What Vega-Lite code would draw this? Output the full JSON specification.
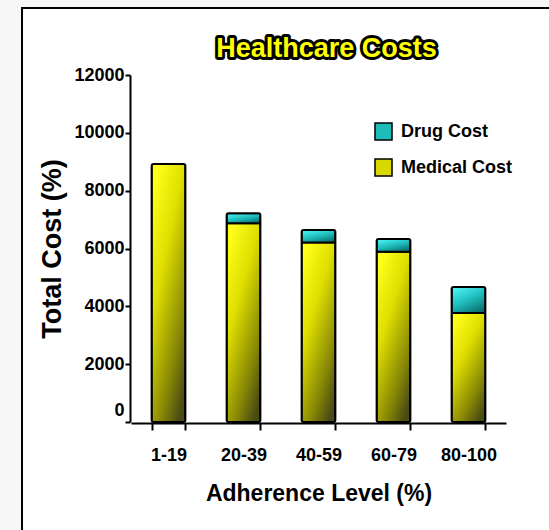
{
  "$schema": "https://vega.github.io/schema/vega-lite/v6.json",
  "width": 527,
  "height": 522,
  "autosize": {"type": "none"},
  "padding": {"left": 22, "top": 8, "right": 0, "bottom": 0},
  "background": "#f7f7f7",
  "config": {
    "view": {"fill": "white", "stroke": "black", "strokeWidth": 2, "strokeDash": [527, 1049, 530]},
    "font": "Liberation Sans"
  },
  "datasets": {
    "costs": [
      {"level": "1-19", "type": "Medical Cost", "cost": 8920},
      {"level": "20-39", "type": "Medical Cost", "cost": 6870},
      {"level": "20-39", "type": "Drug Cost", "cost": 350},
      {"level": "40-59", "type": "Medical Cost", "cost": 6210},
      {"level": "40-59", "type": "Drug Cost", "cost": 430},
      {"level": "60-79", "type": "Medical Cost", "cost": 5890},
      {"level": "60-79", "type": "Drug Cost", "cost": 440},
      {"level": "80-100", "type": "Medical Cost", "cost": 3770},
      {"level": "80-100", "type": "Drug Cost", "cost": 900}
    ],
    "heading": [{"label": "Healthcare Costs", "level": "40-59", "pos": 12900}]
  },
  "layer": [
    {
      "data": {"name": "costs"},
      "mark": {"type": "bar", "stroke": "black", "strokeWidth": 2, "cornerRadius": 2},
      "encoding": {
        "x": {
          "field": "level",
          "type": "nominal",
          "sort": ["1-19", "20-39", "40-59", "60-79", "80-100"],
          "scale": {"range": [109, 484], "paddingInner": 0.55, "paddingOuter": 0.275},
          "axis": {
            "orient": "bottom",
            "offset": -107,
            "tickBand": "extent",
            "domainColor": "black",
            "domainWidth": 2,
            "tickColor": "black",
            "tickWidth": 2,
            "tickSize": 7,
            "labelFontSize": 18,
            "labelFontWeight": "bold",
            "labelColor": "black",
            "labelPadding": 16,
            "labelAngle": 0,
            "title": "Adherence Level (%)",
            "titleFontSize": 23,
            "titleFontWeight": "bold",
            "titleColor": "black",
            "titlePadding": 18
          }
        },
        "y": {
          "field": "cost",
          "type": "quantitative",
          "stack": "zero",
          "scale": {"domain": [0, 12000], "range": [414, 67], "nice": false},
          "axis": {
            "values": [0, 2000, 4000, 6000, 8000, 10000, 12000],
            "format": "d",
            "offset": -108,
            "grid": false,
            "domainColor": "black",
            "domainWidth": 2,
            "tickColor": "black",
            "tickWidth": 2,
            "tickSize": 5,
            "labelFontSize": 18,
            "labelFontWeight": "bold",
            "labelColor": "black",
            "labelPadding": 1,
            "labelOffset": {"condition": {"test": "datum.value === 0", "value": -12}, "value": 0},
            "title": "Total Cost (%)",
            "titleFontSize": 27,
            "titleFontWeight": "bold",
            "titleColor": "black",
            "titlePadding": 7
          }
        },
        "order": {"field": "type", "sort": "descending"},
        "fill": {
          "field": "type",
          "type": "nominal",
          "scale": {"domain": ["Drug Cost", "Medical Cost"], "range": ["#1fbcbc", "#d8d800"]},
          "condition": [
            {"test": "datum.type === 'Drug Cost'", "value": {"gradient": "linear", "x1": 0.2, "y1": 0, "x2": 0.8, "y2": 1, "stops": [{"offset": 0, "color": "#4af2f2"}, {"offset": 0.5, "color": "#1fbcbc"}, {"offset": 1, "color": "#0b6a6a"}]}},
            {"test": "datum.type === 'Medical Cost'", "value": {"gradient": "linear", "x1": 0.2, "y1": 0, "x2": 0.8, "y2": 1, "stops": [{"offset": 0, "color": "#ffff1a"}, {"offset": 0.35, "color": "#dede00"}, {"offset": 0.75, "color": "#8a8a05"}, {"offset": 1, "color": "#4a4a14"}]}}
          ],
          "legend": {
            "title": null,
            "orient": "none",
            "legendX": 352,
            "legendY": 114,
            "padding": 0,
            "symbolType": "square",
            "symbolSize": 290,
            "symbolOpacity": 1,
            "labelFontSize": 18,
            "labelFontWeight": "bold",
            "labelColor": "black",
            "labelOffset": 8,
            "rowPadding": 11,
            "encode": {
              "symbols": {
                "fill": {
                  "condition": {"test": "datum.value === 'Drug Cost'", "value": {"gradient": "linear", "x1": 0.2, "y1": 0, "x2": 0.8, "y2": 1, "stops": [{"offset": 0, "color": "#4af2f2"}, {"offset": 0.5, "color": "#1fbcbc"}, {"offset": 1, "color": "#0b6a6a"}]}},
                  "value": {"gradient": "linear", "x1": 0.2, "y1": 0, "x2": 0.8, "y2": 1, "stops": [{"offset": 0, "color": "#ffff1a"}, {"offset": 0.35, "color": "#dede00"}, {"offset": 0.75, "color": "#8a8a05"}, {"offset": 1, "color": "#4a4a14"}]}
                },
                "stroke": {"value": "black"},
                "strokeWidth": {"value": 2}
              }
            }
          }
        }
      }
    },
    {
      "data": {"name": "heading"},
      "mark": {"type": "text", "font": "Liberation Sans", "fontSize": 27, "fontWeight": "bold", "fill": "black", "stroke": "black", "strokeWidth": 6, "strokeJoin": "round", "baseline": "middle", "align": "center", "dx": 8},
      "encoding": {
        "x": {"field": "level", "type": "nominal"},
        "y": {"field": "pos", "type": "quantitative"},
        "text": {"field": "label"}
      }
    },
    {
      "data": {"name": "heading"},
      "mark": {"type": "text", "font": "Liberation Sans", "fontSize": 27, "fontWeight": "bold", "fill": "#ffff00", "baseline": "middle", "align": "center", "dx": 8},
      "encoding": {
        "x": {"field": "level", "type": "nominal"},
        "y": {"field": "pos", "type": "quantitative"},
        "text": {"field": "label"}
      }
    }
  ]
}
